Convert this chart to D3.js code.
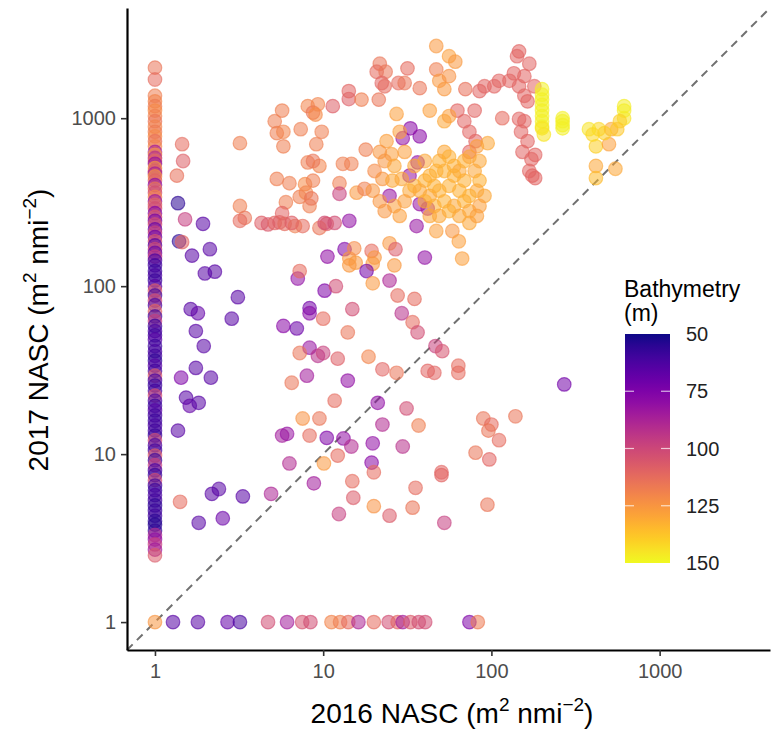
<!DOCTYPE html>
<html>
<head>
<meta charset="utf-8">
<script src="https://cdn.jsdelivr.net/npm/d3@7"></script>
<style>
  body { margin: 0; background: #fff; }
  text { font-family: "Liberation Sans", Arial, sans-serif; }
</style>
</head>
<body>
<svg id="chart" width="776" height="735"></svg>
<script>
// [NASC 2016, NASC 2017, bathymetry (m)]
// cells with no 2016 backscatter (plotted at 1)
const col2016 = [
  [1, 2000, 115], [1, 1700, 112], [1, 1360, 118], [1, 1260, 120], [1, 1180, 117],
  [1, 1110, 122], [1, 1030, 119], [1, 960, 115], [1, 890, 120], [1, 830, 117],
  [1, 780, 122], [1, 730, 114], [1, 680, 120], [1, 630, 85], [1, 605, 124],
  [1, 580, 90], [1, 556, 112], [1, 535, 80], [1, 505, 128], [1, 485, 108],
  [1, 468, 85], [1, 450, 125], [1, 425, 110], [1, 400, 78], [1, 380, 117],
  [1, 360, 102], [1, 340, 120], [1, 320, 82], [1, 305, 112], [1, 290, 102],
  [1, 272, 75], [1, 258, 108], [1, 245, 72], [1, 233, 104], [1, 218, 68],
  [1, 208, 100], [1, 196, 70], [1, 185, 107], [1, 175, 65], [1, 166, 102],
  [1, 158, 68], [1, 150, 97], [1, 142, 62], [1, 133, 60], [1, 123, 58],
  [1, 116, 62], [1, 108, 58], [1, 100, 65], [1, 94, 107], [1, 88, 60],
  [1, 82, 102], [1, 77, 62], [1, 71, 110], [1, 66, 60], [1, 62, 97],
  [1, 58, 58], [1, 54, 62], [1, 51, 60], [1, 48, 65], [1, 44, 58],
  [1, 41, 62], [1, 38.5, 60], [1, 36, 56], [1, 33.6, 65], [1, 31.3, 60],
  [1, 29.3, 107], [1, 27.4, 62], [1, 25.6, 58], [1, 23.8, 60], [1, 22.3, 102],
  [1, 20.8, 62], [1, 19.4, 58], [1, 18.2, 65], [1, 17, 60], [1, 15.8, 58],
  [1, 14.8, 62], [1, 13.8, 60], [1, 12.9, 58], [1, 12.1, 102], [1, 11.3, 62],
  [1, 10.5, 60], [1, 9.8, 107], [1, 9.2, 58], [1, 8.6, 97], [1, 8, 62],
  [1, 7.5, 58], [1, 7, 102], [1, 6.5, 60], [1, 6.1, 58], [1, 5.7, 62],
  [1, 5.3, 60], [1, 4.95, 56], [1, 4.6, 58], [1, 4.3, 60], [1, 4, 55],
  [1, 3.8, 54], [1, 3.5, 56], [1, 3.3, 90], [1, 3.1, 80], [1, 2.9, 97],
  [1, 2.7, 85], [1, 2.5, 107]
];

// cells with no 2017 backscatter (plotted at 1)
const row2017 = [
  [1, 1, 125], [1.28, 1, 65], [1.8, 1, 65], [2.7, 1, 68], [3.2, 1, 62],
  [4.7, 1, 102], [6.1, 1, 85], [7.5, 1, 104], [8.4, 1, 102], [11.2, 1, 120],
  [12.6, 1, 118], [14.1, 1, 112], [16.2, 1, 88], [20, 1, 112], [24.5, 1, 102],
  [27.7, 1, 110], [29.7, 1, 85], [33, 1, 107], [37, 1, 102], [40.4, 1, 102],
  [74, 1, 75], [83, 1, 117]
];

// shallow stations on the left
const leftPts = [
  [1.45, 700, 112], [1.47, 556, 108], [1.35, 455, 114], [1.37, 312, 55], [1.51, 250, 97],
  [1.93, 235, 65], [1.39, 185, 55], [1.45, 183, 110], [1.66, 152, 65], [2.12, 166, 65],
  [1.98, 119, 65], [2.27, 122, 65], [3.11, 86, 65], [1.63, 73, 65], [1.8, 69, 68],
  [2.86, 64, 65], [1.75, 54, 65], [1.95, 44, 65], [1.75, 32.6, 65], [1.43, 28.5, 75],
  [2.15, 28.5, 65], [1.53, 21.7, 65], [1.61, 19.4, 68], [1.82, 20.2, 65], [1.37, 13.8, 65],
  [1.41, 5.2, 112], [2.18, 5.8, 65], [2.4, 6.2, 65], [3.33, 5.6, 65], [1.82, 3.9, 65],
  [2.53, 4.15, 70]
];

// mid-shelf stations
const midPts = [
  [3.2, 710, 118], [3.2, 300, 118], [3.42, 255, 115], [5.7, 1110, 118], [5.15, 960, 118],
  [5.3, 815, 118], [5.8, 830, 120], [5.8, 680, 118], [7.35, 860, 118], [9.8, 830, 118],
  [8.1, 1180, 120], [8.7, 1080, 115], [9.3, 1210, 120], [9, 1050, 122], [11.4, 1180, 108],
  [9.1, 700, 118], [8.1, 545, 118], [9.5, 520, 120], [8.7, 556, 115], [5.3, 435, 118],
  [6.3, 410, 118], [7.8, 405, 122], [8.7, 425, 118], [6, 316, 118], [7.25, 340, 118],
  [7.9, 360, 120], [8.3, 300, 118], [8.5, 333, 115], [12.5, 410, 118], [13.1, 535, 118],
  [14.7, 535, 118], [12.5, 355, 98], [15.8, 360, 126], [17.6, 380, 118], [17.9, 650, 118],
  [14.2, 1300, 108], [14.2, 1450, 110], [16.9, 1290, 118], [21.4, 1290, 115], [21.7, 2110, 115],
  [20.8, 1890, 112], [23.5, 1890, 115], [22.3, 1620, 110], [23.2, 1550, 112], [28, 1620, 112],
  [30.5, 1620, 115], [31.7, 1980, 112], [37.5, 1510, 115], [14.3, 245, 80],
  [3.2, 245, 112], [4.3, 238, 108], [4.7, 233, 106], [5.15, 238, 110], [5.5, 240, 108],
  [5.9, 235, 112], [6.8, 228, 118], [10.5, 235, 108], [5.7, 272, 110], [6.5, 238, 108],
  [7.55, 228, 112], [9.5, 222, 115], [10.2, 238, 102], [11.7, 238, 102],
  [10.6, 150, 80], [13.4, 166, 75], [14.3, 146, 126], [15.3, 168, 122], [15.6, 138, 126],
  [14.3, 133, 126], [19.4, 162, 112], [20.2, 148, 126], [19.7, 136, 126], [24.8, 180, 126],
  [26.9, 166, 107], [26.5, 133, 126], [18.1, 123, 72], [19.7, 104, 126], [24.8, 108, 88],
  [7.06, 111, 80], [7.25, 123, 112], [10.2, 94, 75], [11.9, 100, 102], [8.3, 74, 72],
  [8.3, 69, 78], [10, 64, 112], [14.9, 73, 102], [5.8, 58, 78], [6.97, 56, 70],
  [14, 53, 115], [27.7, 88, 112], [34.9, 84, 112], [29.3, 69, 92], [34, 61, 112],
  [36.4, 53, 102], [8.3, 43, 82], [7.25, 40, 115], [9.3, 38.5, 92], [10, 40, 98],
  [12.2, 37, 108], [18.6, 38, 120], [22.5, 32, 110], [27.3, 30.5, 115], [8, 29.3, 85],
  [14, 27.4, 80], [6.5, 26.6, 115], [46.5, 44, 98], [51, 41, 104], [41.8, 31.3, 110],
  [45.8, 30.5, 110], [63.6, 30.5, 112], [63.6, 33.6, 112], [40.2, 148, 80],
  [5.7, 12.9, 85], [6.1, 13.2, 82], [6.3, 8.8, 90], [4.9, 5.8, 88],
  [11.7, 20.8, 112], [21.1, 20.2, 80], [31.3, 18.7, 102], [7.55, 16.3, 124], [9.5, 16.3, 115],
  [22.5, 15, 90], [36.9, 14.8, 118], [8.3, 12.9, 112], [10.5, 12.5, 75], [13.2, 12.4, 80],
  [14.7, 11.1, 90], [19.7, 11.6, 80], [29.7, 11.1, 92], [12.2, 9.8, 112], [10.1, 8.8, 126],
  [19.4, 8.9, 78], [20, 7.8, 112], [8.8, 6.7, 85], [14.9, 6.9, 112], [50.5, 7.8, 110],
  [50.5, 7.5, 110], [35.4, 6.3, 112], [89.5, 16.3, 115], [100, 15, 112], [96, 13.8, 115],
  [139, 16.8, 115], [111, 12.1, 112], [80.5, 10.2, 115], [97.2, 9.3, 110], [15.1, 5.5, 107],
  [20, 4.9, 124], [34, 4.8, 115], [12.4, 4.4, 97], [24.8, 4.3, 107], [52.5, 3.9, 97],
  [94.7, 5, 115], [271, 26, 72]
];

// outer-shelf stations, dense cluster and the high-backscatter ridge
const outerPts = [
  [47, 2690, 126], [56, 2340, 128], [61, 2170, 126], [47, 1950, 118], [49, 1670, 126],
  [56, 1780, 124], [52.5, 1490, 126], [70, 1490, 114], [85, 1450, 110], [91, 1550, 110],
  [104, 1550, 110], [111, 1670, 110], [128, 1670, 110], [136, 1850, 110], [146, 1550, 110],
  [157, 1780, 110], [168, 2110, 110], [157, 1360, 110], [180, 1550, 110], [146, 2500, 110],
  [142, 2340, 110], [164, 1260, 110], [62.8, 1110, 110], [69, 960, 110], [79.5, 1110, 110],
  [74, 830, 110], [80.5, 730, 110], [74, 630, 110], [116, 1000, 112], [146, 990, 110],
  [157, 960, 110], [150, 830, 110], [164, 730, 110], [153, 630, 110], [173, 570, 110],
  [168, 485, 110], [175, 455, 110], [182, 440, 110], [182, 605, 110],
  [200, 1490, 148], [200, 1380, 148], [200, 1290, 148], [200, 1200, 148], [200, 1110, 148],
  [200, 1030, 148], [200, 960, 148], [200, 890, 148], [200, 870, 145], [205, 800, 145],
  [265, 1000, 148], [265, 960, 148], [265, 910, 148], [265, 870, 148],
  [435, 860, 142], [515, 860, 130], [615, 1000, 145], [615, 1110, 147], [615, 1180, 147],
  [418, 680, 140], [500, 700, 128], [470, 815, 140], [380, 860, 145], [418, 520, 130],
  [418, 440, 135], [546, 500, 130], [580, 960, 140], [400, 800, 142], [560, 860, 138],
  [33, 870, 78], [37.5, 780, 78], [29.7, 760, 80], [36.4, 545, 80], [32.6, 455, 82],
  [24.8, 345, 82], [37.5, 308, 82], [41.8, 290, 85], [35.9, 228, 82],
  [23.8, 730, 128], [25.5, 610, 128], [23.2, 556, 125], [26.5, 520, 130], [27.3, 1060, 128],
  [28.5, 830, 128], [43, 1110, 128], [52.5, 960, 130], [56, 1030, 128], [21.7, 630, 125],
  [20.2, 485, 122], [22.5, 435, 125], [25.8, 425, 130], [29.3, 435, 130], [30.5, 630, 128],
  [32.6, 370, 130], [34.9, 395, 132], [40.2, 425, 132], [43, 455, 132], [47, 485, 132],
  [49, 556, 132], [52.5, 630, 130], [56, 590, 132], [60, 520, 132], [64.5, 485, 130],
  [69, 556, 132], [74, 590, 130], [79.5, 485, 130], [85, 425, 132], [82, 370, 130],
  [74, 345, 132], [64.5, 370, 132], [56, 395, 132], [49, 370, 132], [43, 345, 130],
  [37.5, 370, 130], [40.2, 320, 132], [45.8, 300, 132], [52.5, 320, 132], [60, 300, 130],
  [69, 320, 132], [56, 280, 132], [49, 262, 130], [43, 262, 130], [64.5, 262, 130],
  [74, 280, 130], [60, 455, 132], [52.5, 485, 132], [45.8, 395, 132], [69, 425, 132],
  [40.2, 556, 130], [34.9, 520, 130], [30.5, 320, 128], [26.5, 300, 128], [23.2, 280, 125],
  [28.5, 262, 128], [21.7, 320, 125], [19.7, 370, 125], [85, 556, 130], [91, 345, 130],
  [82, 680, 128], [85, 300, 128], [95, 710, 130], [74, 238, 130], [82, 262, 128],
  [67, 146, 128], [58.6, 213, 125], [64, 185, 128], [47, 213, 128]
];

const points = [...col2016, ...row2017, ...leftPts, ...midPts, ...outerPts];

const axisTicks = [1, 10, 100, 1000];
const depthTicks = [50, 75, 100, 125, 150];

const svg = d3.select("#chart");

const x = d3.scaleLog().domain([0.682, 4530]).range([127, 770]);
const y = d3.scaleLog().domain([0.682, 4530]).range([650, 8]);
const color = d3.scaleSequential(d3.interpolatePlasma).domain([50, 150]);

// 1:1 line
svg.append("line")
  .attr("x1", x(0.682)).attr("y1", y(0.682))
  .attr("x2", x(4530)).attr("y2", y(4530))
  .attr("stroke", "#707070")
  .attr("stroke-width", 2)
  .attr("stroke-dasharray", "8,6");

// points
svg.append("g")
  .selectAll("circle")
  .data(points)
  .enter()
  .append("circle")
  .attr("cx", d => x(d[0]))
  .attr("cy", d => y(d[1]))
  .attr("r", 6.8)
  .attr("fill", d => color(d[2]))
  .attr("fill-opacity", 0.55)
  .attr("stroke", d => color(d[2]))
  .attr("stroke-opacity", 0.6)
  .attr("stroke-width", 1.2);

// axes
const xAxis = svg.append("g")
  .attr("transform", "translate(0,650)")
  .call(d3.axisBottom(x).tickValues(axisTicks).tickFormat(d3.format("d")).tickSize(6).tickSizeOuter(0));
const yAxis = svg.append("g")
  .attr("transform", "translate(127,0)")
  .call(d3.axisLeft(y).tickValues(axisTicks).tickFormat(d3.format("d")).tickSize(6).tickSizeOuter(0));

[xAxis, yAxis].forEach(g => {
  g.select(".domain").attr("stroke", "#000").attr("stroke-width", 2.2);
  g.selectAll(".tick line").attr("stroke", "#333").attr("stroke-width", 1.6);
  g.selectAll(".tick text")
    .attr("fill", "#4d4d4d")
    .style("font-size", "20px")
    .style("font-family", "Liberation Sans, Arial, sans-serif");
});
xAxis.selectAll(".tick text").attr("dy", "0.95em");
yAxis.selectAll(".tick text").attr("dx", "-0.1em");

// axis titles
function nascTitle(sel, year) {
  sel.append("tspan").text(year + " NASC (m");
  sel.append("tspan").attr("dy", -12).style("font-size", "19px").text("2");
  sel.append("tspan").attr("dy", 12).text(" nmi");
  sel.append("tspan").attr("dy", -12).style("font-size", "19px").text("\u22122");
  sel.append("tspan").attr("dy", 12).text(")");
}

const xt = svg.append("text")
  .attr("x", 452).attr("y", 723)
  .attr("text-anchor", "middle")
  .style("font-size", "28px")
  .attr("fill", "#000");
nascTitle(xt, "2016");

const yt = svg.append("text")
  .attr("transform", "translate(48,330) rotate(-90)")
  .attr("text-anchor", "middle")
  .style("font-size", "28px")
  .attr("fill", "#000");
nascTitle(yt, "2017");

// colour bar legend
const legX = 625, legTop = 334, legBot = 563, legW = 45;
const leg = svg.append("g");
leg.append("text").attr("x", legX - 1).attr("y", 297).style("font-size", "23px").attr("fill", "#000").text("Bathymetry");
leg.append("text").attr("x", legX - 1).attr("y", 321).style("font-size", "23px").attr("fill", "#000").text("(m)");

const defs = svg.append("defs");
const grad = defs.append("linearGradient").attr("id", "plasma")
  .attr("x1", 0).attr("y1", 0).attr("x2", 0).attr("y2", 1);
d3.range(0, 1.0001, 0.05).forEach(t => {
  grad.append("stop").attr("offset", t).attr("stop-color", color(50 + t * 100));
});
leg.append("rect")
  .attr("x", legX).attr("y", legTop)
  .attr("width", legW).attr("height", legBot - legTop)
  .attr("fill", "url(#plasma)");

const ly = d3.scaleLinear().domain([50, 150]).range([legTop, legBot]);
depthTicks.forEach(v => {
  if (v > 50 && v < 150) {
    leg.append("line").attr("x1", legX).attr("x2", legX + 9)
      .attr("y1", ly(v)).attr("y2", ly(v)).attr("stroke", "#fff").attr("stroke-opacity", 0.7).attr("stroke-width", 1.2);
    leg.append("line").attr("x1", legX + legW - 9).attr("x2", legX + legW)
      .attr("y1", ly(v)).attr("y2", ly(v)).attr("stroke", "#fff").attr("stroke-opacity", 0.7).attr("stroke-width", 1.2);
  }
  leg.append("text")
    .attr("x", legX + legW + 16).attr("y", ly(v))
    .attr("dy", "0.35em")
    .style("font-size", "20px")
    .attr("fill", "#222")
    .text(v);
});
</script>
</body>
</html>
